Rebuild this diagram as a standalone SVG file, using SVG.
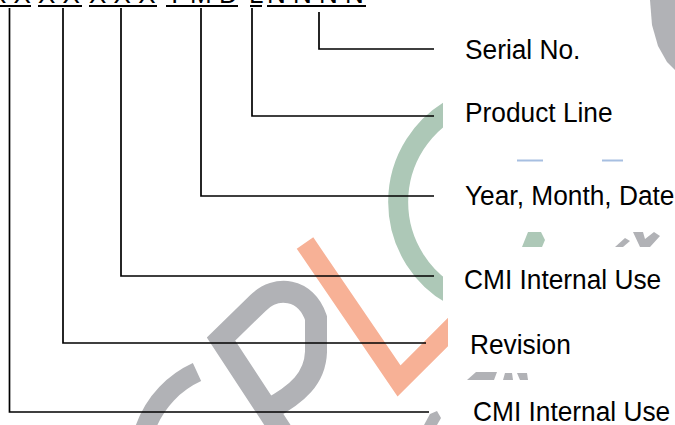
<svg xmlns="http://www.w3.org/2000/svg" width="675" height="425" viewBox="0 0 675 425">
<defs>
<style>
.lbl{font-family:"Liberation Sans",Arial,sans-serif;font-size:26.3px;fill:#000}
.code{font-family:"Liberation Sans",Arial,sans-serif;font-size:26px;fill:#000}
.ul{stroke:#000;stroke-width:2;fill:none}
.conn{stroke:#000;stroke-width:1.7;fill:none;stroke-linejoin:miter}
.wg{fill:#b1b2b6}
.wgs{stroke:#b1b2b6;fill:none}
</style>
<clipPath id="wmclip">
<rect x="0" y="0" width="443" height="312"/>
<rect x="0" y="312" width="448" height="113"/>
</clipPath>
</defs>
<rect x="0" y="0" width="675" height="425" fill="#fff"/>

<g id="watermark">
<g clip-path="url(#wmclip)">
<path d="M197,372 A98,98 0 0 0 150,505" class="wgs" stroke-width="20"/>
<path d="M284,435 L221,339 L258,303 C276,285 306,288 316,318 L316,352 C315,378 298,394 268,410" class="wgs" stroke-width="22"/>
<path d="M305,243 L399,381 L470,310" stroke="#f7b196" stroke-width="20" fill="none"/>
<path d="M460,105 A107,107 0 0 0 460,299" stroke="#adc8b7" stroke-width="20" fill="none"/>
<polygon points="424,425 430,414 437,411 441,418 437,425" class="wg"/>
</g>
<polygon points="650,0 675,0 675,70 667,62 658,46 652,25" class="wg"/>
<rect x="517" y="159.5" width="26" height="2" fill="#a7bfe1"/>
<rect x="602" y="159.5" width="21" height="2" fill="#a7bfe1"/>
<polygon points="522,247 528,232 541,232 545,240 542,247" fill="#adc8b7"/>
<polygon points="615,247 625,238 630,241 623,247" class="wg"/>
<polygon points="633,232 643,232 645,239 654,232 660,236 650,247 640,247" class="wg"/>
<polygon points="467,380 476,372 497,372 494,380" class="wg"/>
<polygon points="503,380 505,373 512,373 513,380" class="wg"/>
<polygon points="517,373 527,373 528,380 520,380" class="wg"/>
</g>

<g id="code">
<text class="code" x="-11" y="3" xml:space="preserve">X X</text>
<text class="code" x="38" y="3" xml:space="preserve">X X</text>
<text class="code" x="89" y="3" xml:space="preserve">X X X</text>
<text class="code" x="166" y="3" xml:space="preserve">Y M D</text>
<text class="code" x="249" y="3">L</text>
<text class="code" x="267" y="3" xml:space="preserve">N N N N</text>
<line class="ul" x1="0" y1="6" x2="31" y2="6"/>
<line class="ul" x1="38" y1="6" x2="82" y2="6"/>
<line class="ul" x1="89" y1="6" x2="157" y2="6"/>
<line class="ul" x1="166" y1="6" x2="238" y2="6"/>
<line class="ul" x1="250" y1="6" x2="262" y2="6"/>
<line class="ul" x1="267" y1="6" x2="366" y2="6"/>
</g>

<g id="connectors">
<polyline class="conn" points="319,12 319,49 434,49"/>
<polyline class="conn" points="252,8 252,116 434,116"/>
<polyline class="conn" points="201,8 201,196 434,196"/>
<polyline class="conn" points="121,8 121,276 434,276"/>
<polyline class="conn" points="63,8 63,343 426,343"/>
<polyline class="conn" points="9.5,8 9.5,412 429,412"/>
</g>

<g id="serial"><text class="lbl" transform="translate(465,58.5) scale(1,1.07)">Serial No.</text></g>
<g id="product-line"><text class="lbl" transform="translate(465,122) scale(1,1.07)">Product Line</text></g>
<g id="date"><text class="lbl" transform="translate(465,205) scale(1,1.07)">Year, Month, Date</text></g>
<g id="cmi-internal-1"><text class="lbl" transform="translate(464,289) scale(1,1.07)">CMI Internal Use</text></g>
<g id="revision"><text class="lbl" transform="translate(470,354) scale(1,1.07)">Revision</text></g>
<g id="cmi-internal-2"><text class="lbl" transform="translate(473,421) scale(1,1.07)">CMI Internal Use</text></g>
</svg>
